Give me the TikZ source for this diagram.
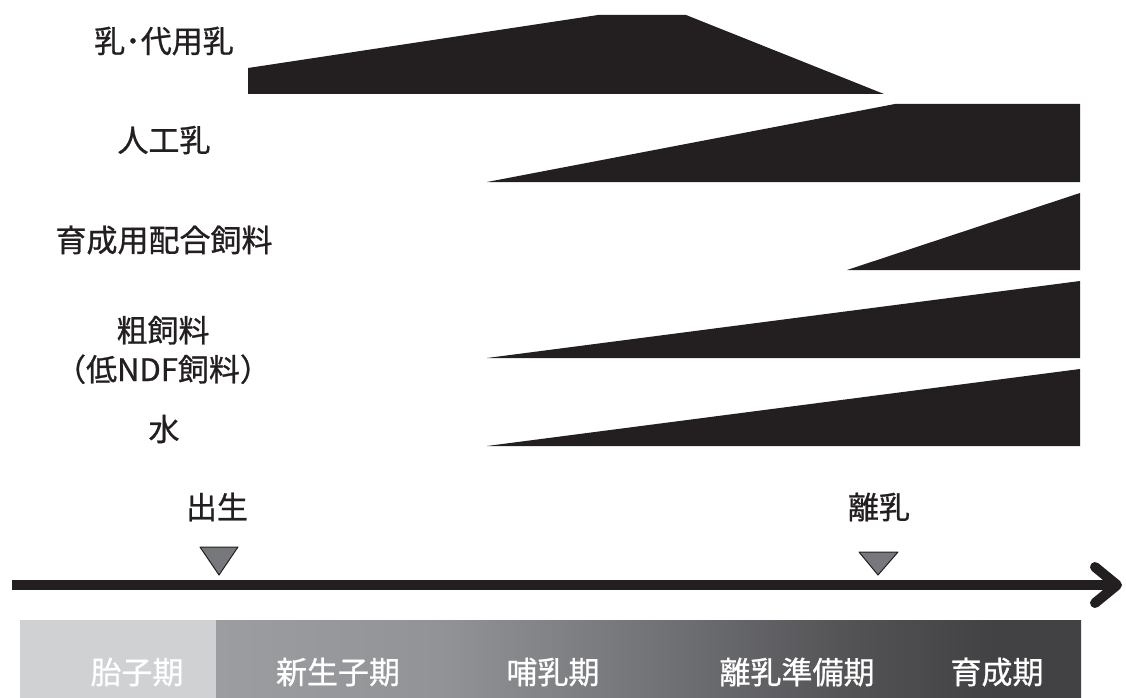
\documentclass[tikz,border=0pt]{standalone}
\usepackage{fontspec}
\usetikzlibrary{arrows.meta}
\newfontfamily\jpfont[FakeBold=0.8]{Noto Sans CJK JP}
\definecolor{ink}{HTML}{231F20}
\definecolor{markgray}{HTML}{77787B}
\definecolor{fetal}{HTML}{D0D1D3}
\definecolor{barA}{HTML}{9C9DA1}
\definecolor{barB}{HTML}{929397}
\definecolor{barC}{HTML}{737478}
\definecolor{barD}{HTML}{525255}
\definecolor{barE}{HTML}{424244}
\pgfdeclarehorizontalshading{stageshade}{100bp}{color(0bp)=(barA); color(25bp)=(barA); color(38bp)=(barB); color(50bp)=(barC); color(62bp)=(barD); color(70bp)=(barE); color(100bp)=(barE)}

\begin{document}
\begin{tikzpicture}[x=1pt,y=-1pt,
    feed/.style={font=\jpfont\fontsize{31}{39}\selectfont, text=ink, align=center, inner sep=0pt},
    stage/.style={font=\jpfont\fontsize{31}{36}\selectfont, text=white, inner sep=0pt},
    amount/.style={fill=ink},
    marker/.style={fill=markgray, draw=ink, line width=1pt, line join=round}]
        \useasboundingbox (0,0) rectangle (1126,698);
        % Feeds
        \node[feed] (milk) at (164,41) {乳･代用乳};
        \node[feed] (starter) at (164,140) {人工乳};
        \node[feed] (grower) at (164,240) {育成用配合飼料};
        \node[feed] (forage) at (163,350) {粗飼料\\（低NDF飼料）};
        \node[feed] (water) at (164,429) {水};
        % Amounts
        \fill[amount] (248,68) -- (598,15) -- (686,15) -- (884,94) -- (248,94) -- cycle;
        \fill[amount] (487,182) -- (895,104) -- (1080,104) -- (1080,182) -- cycle;
        \fill[amount] (847,270) -- (1080,193) -- (1080,270) -- cycle;
        \fill[amount] (487,358) -- (1080,281) -- (1080,358) -- cycle;
        \fill[amount] (487,446) -- (1080,369) -- (1080,446) -- cycle;
        % Events
        \node[feed] (birth) at (217,507) {出生};
        \node[feed] (wean) at (879,507) {離乳};
        \draw[marker] (200,547) -- (238,547) -- (219,575) -- cycle;
        \draw[marker] (859,552) -- (898,552) -- (878,575) -- cycle;
        % Time axis
        \coordinate (tstart) at (12,585);
        \coordinate (tend) at (1122,585);
        \draw[ink, line width=10pt, -{Straight Barb[length=22pt, width=36pt, line cap=round, line join=round]}] (tstart) -- (tend);
        % Stages
        \fill[fetal] (20,620) rectangle (216,698);
        \shade[shading=stageshade] (216,620) rectangle (1081,698);
        \foreach \x/\t/\n in {137/胎子期/fetus, 338/新生子期/newborn, 553/哺乳期/suckling, 797/離乳準備期/preweaning, 997/育成期/rearing} {
          \node[stage] (\n) at (\x,672) {\t};
        }
    \end{tikzpicture}
\end{document}
